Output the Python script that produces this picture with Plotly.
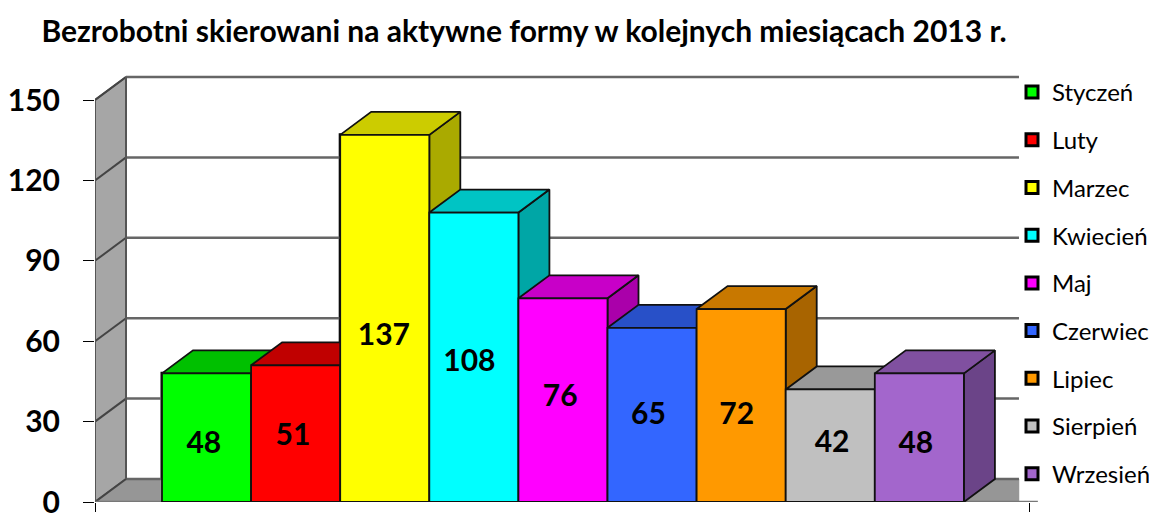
import plotly.graph_objects as go

months = ["Styczeń", "Luty", "Marzec", "Kwiecień", "Maj", "Czerwiec", "Lipiec", "Sierpień", "Wrzesień"]
values = [48, 51, 137, 108, 76, 65, 72, 42, 48]
label_heights = [21, 24, 61.5, 51.5, 38.5, 32, 32, 21.5, 21]
label_nudges = [-0.03, -0.03, -0.01, -0.05, -0.03, -0.04, -0.05, 0.02, -0.04]
front_colors = ["#00FF00", "#FF0000", "#FFFF00", "#00FFFF", "#FF00FF", "#3366FF", "#FF9900", "#C0C0C0", "#A366CC"]
top_colors = ["#00C000", "#C00000", "#CCCC00", "#00C4C4", "#C800C8", "#2850C8", "#C87800", "#999999", "#8050A0"]
side_colors = ["#00AA00", "#AA0000", "#AAAA00", "#00A6A6", "#AA00AA", "#2244AA", "#A86400", "#808080", "#6B4488"]
y_ticks = [0, 30, 60, 90, 120, 150]
title = "Bezrobotni skierowani na aktywne formy w kolejnych miesiącach 2013 r."

FONT = "Lato"
DX = 31 / 89.1      # 3-D depth, in category units
DY = 23 / 2.68      # 3-D depth, in value units
X_MIN, X_MAX = -1.252, 9.354
Y_MAX = 164.93
WALL_END = 9.118
FLOOR_EDGE_END = 9.33
AXIS_RIGHT = 9.24

fig = go.Figure()


def poly(xs, ys, fill, line="#000000", width=1.5):
    fig.add_trace(go.Scatter(x=xs + xs[:1], y=ys + ys[:1], mode="lines", fill="toself", fillcolor=fill,
                             line=dict(color=line, width=width), hoverinfo="skip", showlegend=False,
                             cliponaxis=False))


def seg(xs, ys, color="#666666", width=2.5):
    fig.add_trace(go.Scatter(x=xs, y=ys, mode="lines", line=dict(color=color, width=width),
                             hoverinfo="skip", showlegend=False, cliponaxis=False))


# real bars: carry the legend swatches and the values
for i, (m, v, c) in enumerate(zip(months, values, front_colors)):
    fig.add_trace(go.Bar(x=[i], y=[v], width=1, name=m, marker=dict(color=c, line=dict(color="#000000", width=3)),
                         legendgroup=m, hovertemplate=m + ": %{y}<extra></extra>"))

top = y_ticks[-1]
# left wall and floor
poly([X_MIN, X_MIN + DX, X_MIN + DX, X_MIN], [0, DY, top + DY, top], "#A6A6A6", "#555555", 2)
poly([X_MIN, X_MIN + DX, WALL_END, WALL_END], [0, DY, DY, 0], "#969696", "#969696", 0.5)

# gridlines across the back wall and down the left wall
for t in y_ticks:
    seg([X_MIN + DX, WALL_END], [t + DY, t + DY])
    seg([X_MIN, X_MIN + DX], [t, t + DY], "#444444", 2)
seg([X_MIN, FLOOR_EDGE_END], [0, 0], "#777777", 2.5)
seg([X_MIN + DX, X_MIN + DX], [DY, top + DY], "#555555", 2)
seg([X_MIN, X_MIN], [0, top], "#555555", 2)

# 3-D boxes, painted left to right
for i, v in enumerate(values):
    l, r = i - 0.5, i + 0.5
    poly([r, r + DX, r + DX, r], [0, DY, v + DY, v], side_colors[i], "#111111", 1.8)
    poly([l, r, r + DX, l + DX], [v, v, v + DY, v + DY], top_colors[i], "#111111", 1.8)
    poly([l, r, r, l], [0, 0, v, v], front_colors[i], "#111111", 1.8)

# value labels
fig.add_trace(go.Scatter(x=[i + d for i, d in enumerate(label_nudges)], y=label_heights, mode="text",
                         text=[str(v) for v in values], textposition="middle center",
                         textfont=dict(family=FONT, size=30, color="#000000", weight="bold"),
                         hoverinfo="skip", showlegend=False, cliponaxis=False))

fig.update_layout(
    width=1149, height=513, autosize=False, barmode="overlay",
    margin=dict(l=95, r=109, t=60, b=11, autoexpand=False),
    paper_bgcolor="#FFFFFF", plot_bgcolor="#FFFFFF",
    font=dict(family=FONT, color="#000000"),
    title=dict(text=f"<b>{title}</b>", x=524 / 1149, xref="container", xanchor="center",
               y=1 - 31 / 513, yref="container", yanchor="middle",
               font=dict(family=FONT, size=30, color="#000000")),
    xaxis=dict(range=[X_MIN, X_MAX], tickvals=[X_MIN, AXIS_RIGHT], ticktext=["", ""], ticks="outside",
               ticklen=9, tickcolor="#000000", tickwidth=1, showgrid=False, zeroline=False, showline=False),
    yaxis=dict(range=[0, Y_MAX], tickvals=y_ticks, ticks="outside", ticklen=11, tickcolor="#000000", tickwidth=1,
               tickfont=dict(family=FONT, size=30, color="#000000", weight="bold"), ticklabelstandoff=17,
               ticklabeloverflow="allow", showgrid=False, zeroline=False, showline=False),
    legend=dict(x=(1012 - 95) / 945, xref="paper", xanchor="left", y=1 - 10 / 442, yanchor="top",
                bgcolor="rgba(0,0,0,0)", tracegroupgap=13.5, traceorder="grouped",
                font=dict(family=FONT, size=24, color="#000000")),
    showlegend=True,
)
fig.write_html("out.html", config={"displayModeBar": False},
               post_script="document.body.style.margin='0';document.documentElement.style.overflow='hidden';")
